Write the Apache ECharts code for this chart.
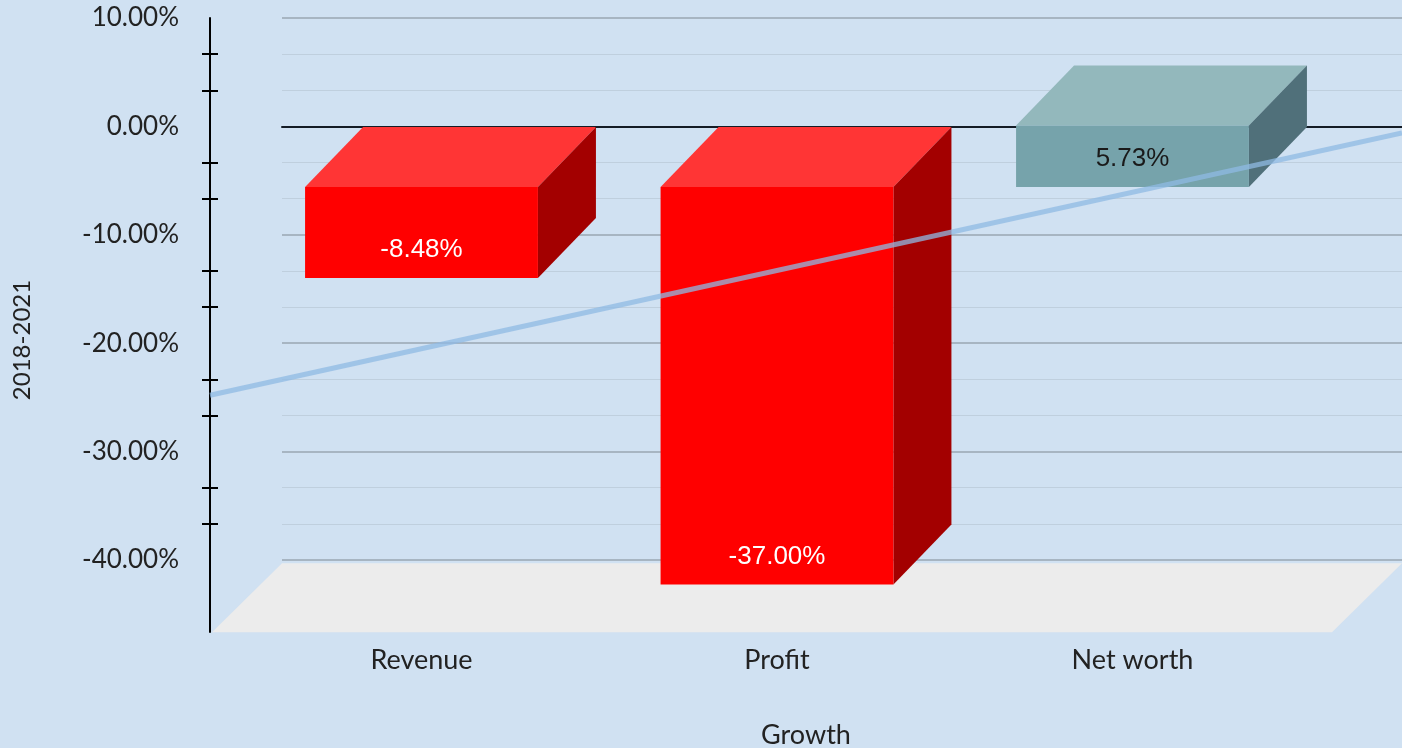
<!DOCTYPE html>
<html>
<head>
<meta charset="utf-8">
<script src="https://cdn.jsdelivr.net/npm/echarts@6/dist/echarts.min.js"></script>
<style>
  html, body { margin: 0; padding: 0; background: #D0E1F2; }
  #chart { width: 1402px; height: 748px; }
</style>
</head>
<body>
<div id="chart"></div>
<script>
// 数据
var categories = ['Revenue', 'Profit', 'Net worth'];
var growth = [-8.48, -37.00, 5.73];
var axisLabels = [10, 0, -10, -20, -30, -40];
var axisTicks = [6.67, 3.33, -3.33, -6.67, -13.33, -16.67, -23.33, -26.67, -33.33, -36.67];
var trendEnds = [-24.8, -0.6];   // 趋势线两端 (back wall scale)
var floorLevel = -40.3;

var DX = 58, DY = -60;          // 柱子的深度偏移
var FLOOR_DX = -70, FLOOR_DY = 69;
var labelFont = 'Lato, "Open Sans", sans-serif';

var chart = echarts.init(document.getElementById('chart'));

function renderBar(params, api) {
    var i = api.value(0), v = api.value(1);
    var pZero = api.coord([i, 0]);
    var pVal = api.coord([i, v]);
    var w = api.size([1, 0])[0] * 0.655;
    var xL = pZero[0] - w / 2, xR = xL + w;
    var yTop = Math.min(pZero[1], pVal[1]);
    var yBot = Math.max(pZero[1], pVal[1]);
    var neg = v < 0;
    var cFront = neg ? '#FF0000' : '#76A3AB';
    var cTop = neg ? '#FF3535' : '#93B8BC';
    var cSide = neg ? '#A30000' : '#50707A';
    return {
        type: 'group',
        children: [
            { type: 'polygon', shape: { points: [[xL, yTop], [xL + DX, yTop + DY], [xR + DX, yTop + DY], [xR, yTop]] }, style: { fill: cTop } },
            { type: 'polygon', shape: { points: [[xR, yTop], [xR + DX, yTop + DY], [xR + DX, yBot + DY], [xR, yBot]] }, style: { fill: cSide } },
            { type: 'rect', shape: { x: xL, y: yTop, width: w, height: yBot - yTop }, style: { fill: cFront } },
            {
                type: 'text', x: (xL + xR) / 2, y: yBot - 28,
                style: {
                    text: v.toFixed(2) + '%', fill: neg ? '#ffffff' : '#1a1a1a',
                    font: '26px "Liberation Sans", Arial, sans-serif',
                    align: 'center', verticalAlign: 'middle'
                }
            }
        ]
    };
}

function renderFloor(params, api) {
    var p0 = api.coord([0, api.value(0)]);
    var p1 = api.coord([1, api.value(0)]);
    return {
        type: 'polygon',
        shape: { points: [p0, p1, [p1[0] + FLOOR_DX, p1[1] + FLOOR_DY], [p0[0] + FLOOR_DX, p0[1] + FLOOR_DY]] },
        style: { fill: '#ECECEC' }
    };
}

chart.setOption({
    backgroundColor: '#D0E1F2',
    animation: false,
    grid: [
        { left: 210, top: 18, width: 1, bottom: 116, outerBoundsMode: 'none' },          // 左侧坐标轴
        { left: 282, right: 0, top: 18, bottom: 188, outerBoundsMode: 'none' },          // 背墙
        { left: 243.75, width: 1066.5, top: 79.6, height: 537, outerBoundsMode: 'none' }, // 柱子前平面
        { left: 210, right: 0, top: 18, bottom: 188, outerBoundsMode: 'none' }           // 趋势线
    ],
    xAxis: [
        { gridIndex: 0, type: 'value', show: false },
        {
            gridIndex: 1, type: 'value', min: 0, max: 1,
            axisLine: { show: true, onZero: true, lineStyle: { color: '#141C26', width: 2 } },
            axisTick: { show: false }, axisLabel: { show: false }, splitLine: { show: false }
        },
        {
            gridIndex: 2, type: 'category', data: categories,
            axisLine: { show: false }, axisTick: { show: false },
            axisLabel: { margin: 30, fontSize: 27, color: '#222', fontFamily: labelFont },
            name: 'Growth', nameLocation: 'middle', nameGap: 105,
            nameTextStyle: { fontSize: 27, color: '#222', fontFamily: labelFont, padding: [0, 0, 0, 58] }
        },
        { gridIndex: 3, type: 'value', min: 0, max: 1, show: false }
    ],
    yAxis: [
        {
            gridIndex: 0, type: 'value', min: -46.64, max: 10, position: 'left',
            axisLine: { show: true, lineStyle: { color: '#000', width: 2 } },
            axisTick: { show: true, customValues: axisTicks, length: 8, lineStyle: { color: '#000', width: 2 } },
            axisLabel: {
                customValues: axisLabels, margin: 31, fontSize: 26, color: '#222', fontFamily: labelFont,
                formatter: function (v) { return v.toFixed(2) + '%'; }
            },
            splitLine: { show: false }
        },
        {
            gridIndex: 0, type: 'value', min: -46.64, max: 10, position: 'left',
            axisLine: { show: false },
            axisTick: { show: true, inside: true, customValues: axisTicks, length: 8, lineStyle: { color: '#000', width: 2 } },
            axisLabel: { show: false }, splitLine: { show: false }
        },
        {
            gridIndex: 1, type: 'value', min: -40, max: 10, interval: 10,
            axisLine: { show: false }, axisTick: { show: false }, axisLabel: { show: false },
            splitLine: { show: true, lineStyle: { color: '#9AA6B2', width: 1.5 } },
            minorTick: { show: false, splitNumber: 3 },
            minorSplitLine: { show: true, lineStyle: { color: '#BFCFDE', width: 1.2 } }
        },
        { gridIndex: 2, type: 'value', min: -40, max: 10, show: false },
        { gridIndex: 3, type: 'value', min: -40, max: 10, show: false }
    ],
    graphic: [{
        type: 'text', x: 22, y: 340, rotation: Math.PI / 2,
        style: { text: '2018-2021', font: '24px ' + labelFont, fill: '#222', align: 'center', verticalAlign: 'middle' }
    }],
    series: [
        {
            type: 'custom', xAxisIndex: 1, yAxisIndex: 2, renderItem: renderFloor,
            data: [[floorLevel]], clip: false, z: 1, silent: true
        },
        {
            type: 'custom', xAxisIndex: 2, yAxisIndex: 3, renderItem: renderBar,
            data: growth.map(function (v, i) { return [i, v]; }), clip: false, z: 3
        },
        {
            type: 'line', xAxisIndex: 3, yAxisIndex: 4, showSymbol: false, symbol: 'none',
            data: [[0, trendEnds[0]], [1, trendEnds[1]]], z: 5,
            lineStyle: { color: '#8FB9E3', width: 5, opacity: 0.75 }
        }
    ]
});
</script>
</body>
</html>
